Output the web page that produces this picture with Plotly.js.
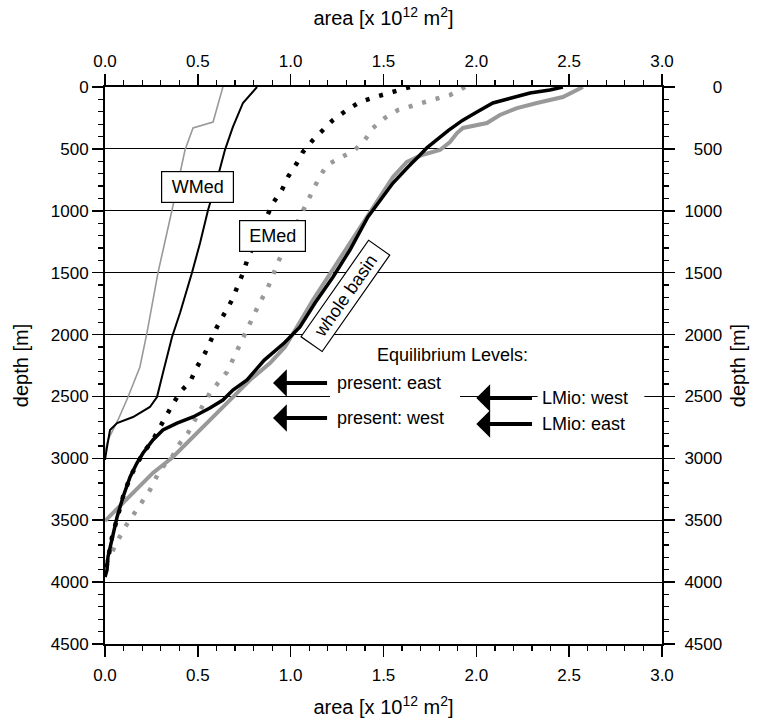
<!DOCTYPE html>
<html>
<head>
<meta charset="utf-8">
<script src="https://cdn.plot.ly/plotly-3.0.1.min.js"></script>
<style>html,body{margin:0;padding:0;background:#fff;}</style>
</head>
<body>
<div id="chart" style="width:762px;height:719px;"></div>
<script>
// ---- data (area in 10^12 m^2, depth in m) ----
const wmedLMioArea  = [0.635,0.582,0.474,0.431,0.361,0.285,0.226,0.188,0.124,0.070,0.016,0.0];
const wmedLMioDepth = [0,283,331,509,994,1503,1987,2262,2505,2690,2852,2950];

const wmedPresArea  = [0.819,0.743,0.689,0.646,0.603,0.555,0.512,0.468,0.404,0.361,0.312,0.280,0.242,0.151,0.065,0.027,0.011,0.0];
const wmedPresDepth = [0,129,323,509,751,994,1260,1503,1826,2020,2311,2505,2585,2666,2715,2771,2908,3013];

const emedPresArea  = [1.642,1.545,1.454,1.373,1.303,1.228,1.120,1.066,1.034,0.985,0.953,0.905,0.872,0.770,0.743,0.711,0.684,0.603,0.539,0.495,0.458,0.404,0.361,0.323,0.258,0.205,0.135,0.097,0.038,0.0];
const emedPresDepth = [0,40,81,121,186,267,428,525,614,727,832,937,1050,1381,1503,1616,1721,1939,2149,2262,2383,2464,2569,2674,2852,2957,3151,3312,3636,3943];

const emedLMioArea  = [1.939,1.858,1.761,1.659,1.578,1.508,1.443,1.400,1.346,1.265,1.195,1.147,1.115,1.077,1.039,0.932,0.905,0.872,0.835,0.797,0.743,0.700,0.657,0.609,0.565,0.522,0.447,0.404,0.361,0.296,0.242,0.199,0.151,0.108,0.070,0.038,0.016,0.0];
const emedLMioDepth = [0,65,105,145,186,250,331,428,509,574,630,751,848,970,1074,1414,1519,1640,1737,1858,2044,2181,2302,2391,2472,2585,2795,2876,2989,3094,3256,3353,3458,3555,3660,3765,3822,3862];

const wholeLMioArea  = [2.574,2.466,2.326,2.219,2.127,2.057,1.928,1.896,1.858,1.804,1.707,1.626,1.551,1.481,1.427,1.357,1.303,1.212,1.120,1.034,0.969,0.889,0.781,0.689,0.582,0.474,0.366,0.258,0.151,0.081,0.027,0.0];
const wholeLMioDepth = [0,81,129,170,226,291,331,372,444,509,549,606,727,889,1018,1180,1293,1503,1721,1939,2100,2230,2367,2505,2666,2828,2989,3118,3280,3393,3474,3506];

const wholePresArea  = [2.466,2.396,2.289,2.181,2.089,2.003,1.925,1.850,1.790,1.735,1.690,1.632,1.551,1.481,1.416,1.319,1.228,1.131,1.050,0.965,0.858,0.765,0.689,0.635,0.565,0.474,0.388,0.312,0.258,0.205,0.172,0.135,0.097,0.065,0.038,0.016,0.011,0.0];
const wholePresDepth = [0,24,48,89,129,202,270,350,420,490,560,646,776,913,1050,1317,1535,1745,1939,2068,2206,2367,2448,2529,2593,2666,2715,2771,2852,2957,3038,3151,3312,3474,3636,3797,3902,3959];

// axes ticks
const areaTicks  = [0.0,0.5,1.0,1.5,2.0,2.5,3.0];
const depthTicks = [0,500,1000,1500,2000,2500,3000,3500,4000,4500];

// equilibrium levels
const levelNames  = ['present: east','present: west','LMio: west','LMio: east'];
const levelDepths = [2391,2674,2513,2723];

// curve labels
const curveLabels = ['WMed','EMed','whole basin'];

// ---- styling ----
const BLACK = '#000000', GRAY = '#999999';
const FONT = 'Liberation Sans, Arial, Helvetica, sans-serif';

const traces = [
  {x: wmedLMioArea, y: wmedLMioDepth, line:{color:GRAY, width:1.6}},
  {x: wmedPresArea, y: wmedPresDepth, line:{color:BLACK, width:2}},
  {x: emedLMioArea, y: emedLMioDepth, line:{color:GRAY, width:4.5, dash:'4px,10px'}},
  {x: emedPresArea, y: emedPresDepth, line:{color:BLACK, width:4.5, dash:'4px,10px'}},
  {x: wholeLMioArea, y: wholeLMioDepth, line:{color:GRAY, width:4}},
  {x: wholePresArea, y: wholePresDepth, line:{color:BLACK, width:3.5}},
  {x: wholePresArea, y: wholePresDepth, xaxis:'x2', yaxis:'y2', line:{color:'rgba(0,0,0,0)', width:0}}
].map(t => Object.assign({type:'scatter', mode:'lines', hoverinfo:'skip', showlegend:false}, t));

const tickFont = {family:FONT, size:17, color:BLACK};
const titleFont = {family:FONT, size:20, color:BLACK};
const commonX = {
  range:[0,3], tickvals:areaTicks, ticktext:areaTicks.map(v=>v.toFixed(1)),
  ticks:'outside', ticklen:11, tickwidth:1.5, tickcolor:BLACK,
  showline:true, linewidth:2, linecolor:BLACK, showgrid:false, zeroline:false,
  tickfont:tickFont, fixedrange:true,
  minor:{dtick:0.1, tick0:0, ticks:'outside', ticklen:5, tickwidth:1.2, tickcolor:BLACK, showgrid:false}
};
const commonY = {
  range:[4500,0], tickvals:depthTicks,
  ticks:'outside', ticklen:11, tickwidth:1.5, tickcolor:BLACK,
  showline:true, linewidth:2, linecolor:BLACK, zeroline:false,
  tickfont:tickFont, fixedrange:true,
  minor:{dtick:100, tick0:0, ticks:'outside', ticklen:5, tickwidth:1.2, tickcolor:BLACK, showgrid:false}
};

const annotations = [];
// curve labels
const labelPos = [[0.498,804,0,63,22,4],[0.902,1204,0,57,22,4],[1.297,1687,-55,111,19,3]];
curveLabels.forEach((t,i)=>{
  const p = labelPos[i];
  annotations.push({x:p[0], y:p[1], xref:'x', yref:'y', text:t, showarrow:false,
    textangle:p[2], width:p[3], height:p[4], borderpad:p[5], bgcolor:'#ffffff',
    bordercolor:BLACK, borderwidth:1.2, font:{family:FONT, size:18, color:BLACK}});
});
annotations.push({x:1.874, y:2165, xref:'x', yref:'y', text:'Equilibrium Levels:', showarrow:false,
  font:{family:FONT, size:18, color:BLACK}});
// arrows with their labels (text box left edge at arrow tail)
const arrowTipX  = [0.905,0.905,2.000,2.000];
const arrowTailX = [1.196,1.196,2.300,2.300];
levelNames.forEach((name,i)=>{
  annotations.push({x:arrowTipX[i], y:levelDepths[i], ax:arrowTailX[i], ay:levelDepths[i],
    xref:'x', yref:'y', axref:'x', ayref:'y', xanchor:'left', yanchor:'middle',
    text:name, borderpad:9, showarrow:true,
    arrowhead:1, arrowsize:1.15, arrowwidth:4, arrowcolor:BLACK, standoff:0, startstandoff:0,
    font:{family:FONT, size:18, color:BLACK}});
});

const layout = {
  width:762, height:719,
  margin:{l:105, r:100, t:87, b:75, pad:0},
  paper_bgcolor:'#ffffff', plot_bgcolor:'#ffffff',
  showlegend:false,
  font:{family:FONT, color:BLACK},
  xaxis: Object.assign({}, commonX, {side:'bottom', anchor:'y', ticklabelstandoff:4,
    title:{text:'area [x 10<sup>12</sup> m<sup>2</sup>]', font:titleFont, standoff:16}}),
  xaxis2: Object.assign({}, commonX, {side:'top', overlaying:'x', anchor:'y',
    title:{text:'area [x 10<sup>12</sup> m<sup>2</sup>]', font:titleFont, standoff:21}}),
  yaxis: Object.assign({}, commonY, {side:'left', anchor:'x',
    ticktext:depthTicks.map(String),
    showgrid:true, gridcolor:BLACK, gridwidth:1.2,
    title:{text:'depth [m]', font:titleFont, standoff:17}}),
  yaxis2: Object.assign({}, commonY, {side:'right', overlaying:'y', anchor:'x',
    ticktext:depthTicks.map(v=>'\u2007'.repeat(4-String(v).length)+v),
    showgrid:false, ticklabelstandoff:6,
    title:{text:'depth [m]', font:titleFont, standoff:10}}),
  shapes:[
    {type:'rect', xref:'x', yref:'y', x0:1.212, x1:1.912, y0:2482, y1:2518, fillcolor:'#ffffff', line:{width:0}, layer:'above'},
    {type:'rect', xref:'x', yref:'y', x0:2.33, x1:2.905, y0:2482, y1:2518, fillcolor:'#ffffff', line:{width:0}, layer:'above'}
  ],
  annotations: annotations
};

Plotly.newPlot('chart', traces, layout, {staticPlot:true, displayModeBar:false});
</script>
</body>
</html>
